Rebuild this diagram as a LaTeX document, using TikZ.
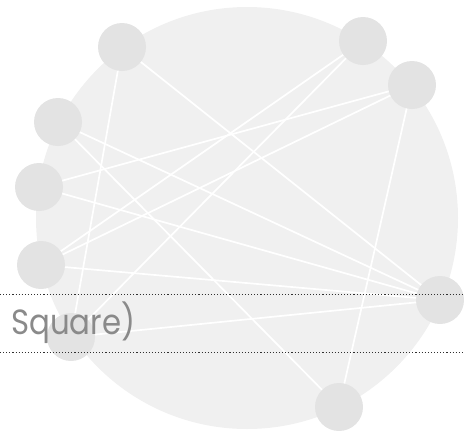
\documentclass[tikz,border=0pt]{standalone}
\usepackage{fontspec}
\setmainfont{Poppins}
\begin{document}
\begin{tikzpicture}[x=1pt,y=-1pt,
  disc/.style={circle,fill=nodegray,minimum size=48pt,inner sep=0pt},
  link/.style={draw=white,line width=1.7pt},
  guide/.style={draw=dotgray,line width=1.1pt,dash pattern=on 1.1pt off 2pt}]
\definecolor{nodegray}{HTML}{E3E3E3}
\definecolor{backgray}{HTML}{F0F0F0}
\definecolor{dotgray}{HTML}{303030}
\definecolor{textgray}{HTML}{8A8A8A}
\useasboundingbox (0,0) rectangle (474,437);
% large backdrop disc
\fill[backgray] (247,218) circle (211);
% node positions
\coordinate (pa) at (122,47);
\coordinate (pb) at (58,122);
\coordinate (pc) at (39,187);
\coordinate (pd) at (41,265);
\coordinate (pe) at (71,337);
\coordinate (pf) at (363,41);
\coordinate (pg) at (412,85);
\coordinate (ph) at (440,300);
\coordinate (pi) at (339,407);
% connections
\draw[link] (pa) -- (pe);
\draw[link] (pa) -- (ph);
\draw[link] (pb) -- (ph);
\draw[link] (pb) -- (pi);
\draw[link] (pc) -- (pg);
\draw[link] (pc) -- (ph);
\draw[link] (pd) -- (pf);
\draw[link] (pd) -- (pg);
\draw[link] (pd) -- (ph);
\draw[link] (pe) -- (pf);
\draw[link] (pe) -- (ph);
\draw[link] (pg) -- (pi);
% nodes
\node[disc] (a) at (pa) {};
\node[disc] (b) at (pb) {};
\node[disc] (c) at (pc) {};
\node[disc] (d) at (pd) {};
\node[disc] (e) at (pe) {};
\node[disc] (f) at (pf) {};
\node[disc] (g) at (pg) {};
\node[disc] (h) at (ph) {};
\node[disc] (i) at (pi) {};
% dotted guide lines
\coordinate (g1l) at (0,294.5);
\coordinate (g1r) at (464,294.5);
\coordinate (g2l) at (0,352.5);
\coordinate (g2r) at (464,352.5);
\draw[guide] (g1l) -- (g1r);
\draw[guide] (g2l) -- (g2r);
% label
\node[anchor=base west,inner sep=0pt,text=textgray,xscale=0.88,font=\fontsize{35}{38}\selectfont] (lbl) at (11,334.5) {Square)};
\end{tikzpicture}
\end{document}
